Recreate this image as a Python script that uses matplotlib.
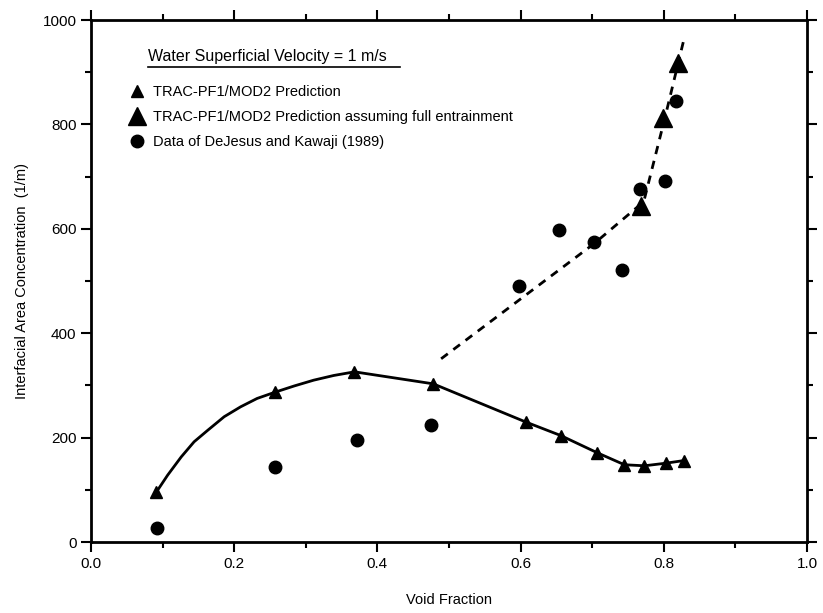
import numpy as np
import matplotlib.pyplot as plt
from matplotlib.ticker import MultipleLocator
from matplotlib.lines import Line2D

plt.rcParams['font.family'] = ['Liberation Sans', 'DejaVu Sans']

# TRAC-PF1/MOD2 prediction (small triangles)
pred_x = [0.091, 0.257, 0.368, 0.478, 0.607, 0.656, 0.707, 0.745, 0.773, 0.803, 0.828]
pred_y = [95, 287, 326, 303, 230, 204, 171, 148, 146, 151, 156]

# solid curve
curve_x = [0.091, 0.107, 0.126, 0.144, 0.163, 0.186, 0.209, 0.232, 0.257, 0.284, 0.311,
           0.339, 0.368, 0.478, 0.607, 0.656, 0.707, 0.745, 0.773, 0.803, 0.828]
curve_y = [95, 128, 163, 192, 214, 240, 259, 275, 287, 299, 310,
           319, 326, 303, 230, 204, 171, 148, 146, 151, 156]

# full entrainment prediction (big triangles) and its dashed line
ent_x = [0.768, 0.799, 0.820]
ent_y = [644, 812, 918]
dash_x = [0.489, 0.703, 0.772, 0.802, 0.829]
dash_y = [351, 572, 652, 815, 968]

# DeJesus and Kawaji (1989)
data_x = [0.092, 0.257, 0.371, 0.475, 0.598, 0.654, 0.703, 0.741, 0.767, 0.801, 0.817]
data_y = [27, 143, 196, 225, 490, 597, 575, 521, 677, 691, 845]

fig = plt.figure(figsize=(8.23, 6.13), dpi=100)
ax = fig.add_axes([91/823, 1 - 542/613, (807 - 91)/823, (542 - 20)/613])

ax.plot(curve_x, curve_y, color='black', lw=2)
ax.plot(pred_x, pred_y, ls='none', marker='^', ms=9, color='black')
ax.plot(dash_x, dash_y, color='black', lw=2, ls=(0, (3, 2.5)))
ax.plot(ent_x, ent_y, ls='none', marker='^', ms=13, color='black')
ax.plot(data_x, data_y, ls='none', marker='o', ms=9, color='black')

ax.set_xlim(0, 1.0)
ax.set_ylim(0, 1000)
ax.xaxis.set_major_locator(MultipleLocator(0.2))
ax.xaxis.set_minor_locator(MultipleLocator(0.1))
ax.yaxis.set_major_locator(MultipleLocator(200))
ax.yaxis.set_minor_locator(MultipleLocator(100))
ax.tick_params(which='both', direction='out', top=True, right=True, width=1.5, labelsize=11)
ax.tick_params(which='major', length=7)
ax.tick_params(which='minor', length=4)
ax.xaxis.set_major_formatter(plt.FuncFormatter(lambda v, p: '%.1f' % v))
for s in ax.spines.values():
    s.set_linewidth(2)

ax.set_xlabel('Void Fraction', fontsize=10.5, labelpad=16)
ax.set_ylabel('Interfacial Area Concentration  (1/m)', fontsize=10.5, labelpad=10)

# legend title, underlined
ax.text(148/823, 1 - 57/613, 'Water Superficial Velocity = 1 m/s', transform=fig.transFigure,
        fontsize=11.5, va='center', ha='left')
fig.add_artist(Line2D([148/823, 400/823], [1 - 67/613, 1 - 67/613], color='black', lw=1.2))

handles = [Line2D([], [], ls='none', marker='^', ms=9, color='black'),
           Line2D([], [], ls='none', marker='^', ms=13, color='black'),
           Line2D([], [], ls='none', marker='o', ms=9, color='black')]
labels = ['TRAC-PF1/MOD2 Prediction',
          'TRAC-PF1/MOD2 Prediction assuming full entrainment',
          'Data of DeJesus and Kawaji (1989)']
ax.legend(handles, labels, loc='upper left', bbox_to_anchor=(122/823, 1 - 78/613),
          bbox_transform=fig.transFigure, frameon=False, fontsize=10.5,
          handlelength=1.0, handletextpad=0.6, labelspacing=0.75, borderpad=0)

fig.savefig('out.png', dpi=100)
